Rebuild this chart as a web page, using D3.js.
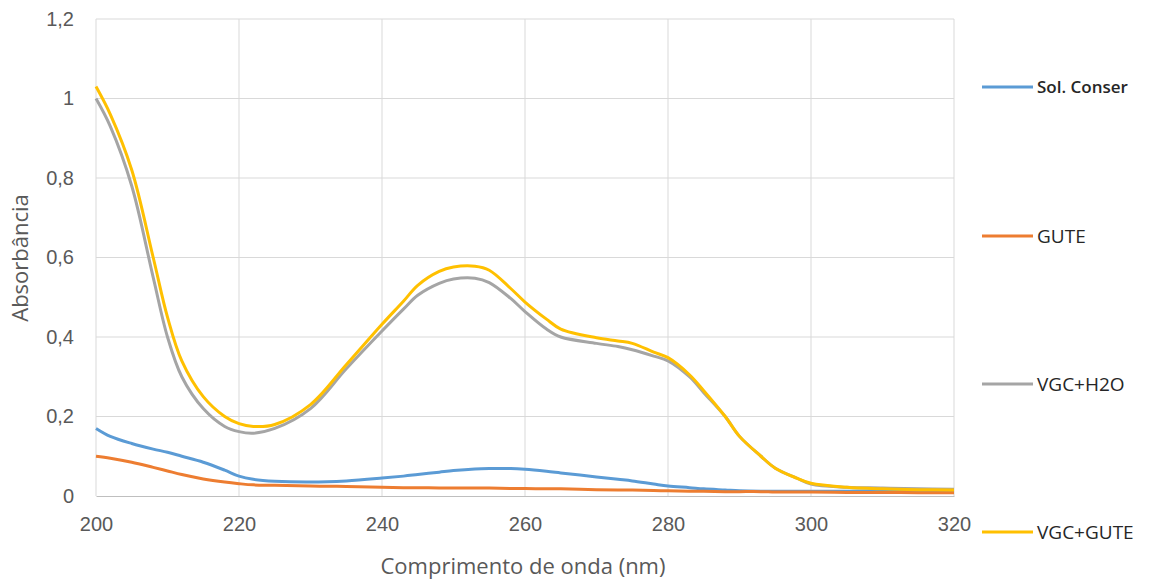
<!DOCTYPE html>
<html>
<head>
<meta charset="utf-8">
<script src="https://cdn.jsdelivr.net/npm/d3@7"></script>
<style>
	body { margin: 0; background: #fff; }
	svg { font-family: "Open Sans", "Liberation Sans", sans-serif; }
</style>
</head>
<body>
<svg id="chart" width="1149" height="581"></svg>
<script>
// Data
const wavelengths = [200, 202, 205, 208, 210, 212, 215, 218, 220, 222, 225, 230, 235, 240, 243, 245, 248, 250, 253, 255,
	258, 260, 263, 265, 270, 273, 275, 278, 280, 283, 285, 288, 290, 293, 295, 298, 300, 305, 310, 315, 320];
const solConser = [0.17, 0.15, 0.132, 0.118, 0.11, 0.1, 0.085, 0.065, 0.05, 0.042, 0.037, 0.035, 0.038, 0.045, 0.05, 0.054, 0.06, 0.064, 0.068, 0.069,
	0.069, 0.067, 0.062, 0.058, 0.048, 0.042, 0.038, 0.03, 0.025, 0.021, 0.018, 0.015, 0.013, 0.012, 0.012, 0.012, 0.012, 0.012, 0.013, 0.013, 0.014];
const gute = [0.1, 0.095, 0.085, 0.072, 0.063, 0.054, 0.043, 0.035, 0.031, 0.028, 0.027, 0.025, 0.024, 0.022, 0.021, 0.021, 0.02, 0.02, 0.02, 0.02,
	0.019, 0.019, 0.018, 0.018, 0.016, 0.015, 0.015, 0.014, 0.013, 0.012, 0.012, 0.011, 0.011, 0.011, 0.01, 0.01, 0.01, 0.009, 0.009, 0.008, 0.008];
const vgcH2O = [1.0, 0.93, 0.78, 0.55, 0.4, 0.3, 0.22, 0.175, 0.162, 0.158, 0.17, 0.22, 0.32, 0.415, 0.47, 0.505, 0.535, 0.546, 0.548, 0.537,
	0.497, 0.464, 0.42, 0.4, 0.384, 0.376, 0.368, 0.352, 0.34, 0.3, 0.26, 0.2, 0.15, 0.1, 0.07, 0.045, 0.03, 0.022, 0.02, 0.018, 0.017];
const vgcGute = [1.03, 0.96, 0.82, 0.6, 0.45, 0.34, 0.25, 0.2, 0.182, 0.175, 0.18, 0.23, 0.33, 0.432, 0.49, 0.53, 0.565, 0.576, 0.578, 0.568,
	0.522, 0.488, 0.445, 0.42, 0.398, 0.39, 0.384, 0.362, 0.348, 0.305, 0.265, 0.2, 0.15, 0.1, 0.07, 0.045, 0.032, 0.022, 0.018, 0.016, 0.015];

const seriesNames = ["Sol. Conser", "GUTE", "VGC+H2O", "VGC+GUTE"];
const seriesValues = [solConser, gute, vgcH2O, vgcGute];
const seriesColors = ["#5B9BD5", "#ED7D31", "#A5A5A5", "#FFC000"];
const xTicks = [200, 220, 240, 260, 280, 300, 320];
const yTicks = [0, 0.2, 0.4, 0.6, 0.8, 1, 1.2];

const svg = d3.select("#chart");

const x = d3.scaleLinear().domain([200, 320]).range([96, 954]);
const y = d3.scaleLinear().domain([0, 1.2]).range([496, 19]);

const fmt = d => d3.format("~g")(d).replace(".", ",");

// Grid
svg.append("g")
	.selectAll("line")
	.data(yTicks.filter(d => d > 0))
	.enter()
	.append("line")
		.attr("x1", x(200)).attr("x2", x(320))
		.attr("y1", d => y(d)).attr("y2", d => y(d))
		.attr("stroke", "#d9d9d9").attr("stroke-width", 1);

svg.append("g")
	.selectAll("line")
	.data(xTicks)
	.enter()
	.append("line")
		.attr("x1", d => x(d)).attr("x2", d => x(d))
		.attr("y1", y(0)).attr("y2", y(1.2))
		.attr("stroke", "#d9d9d9").attr("stroke-width", 1);

// Axes
const xAxis = svg.append("g")
	.attr("transform", `translate(0,${y(0)})`)
	.call(d3.axisBottom(x).tickValues(xTicks).tickSize(0).tickPadding(21).tickFormat(d3.format("d")));
xAxis.select(".domain").attr("stroke", "#bfbfbf");
xAxis.selectAll("text").attr("font-size", 20).attr("fill", "#595959");

const yAxis = svg.append("g")
	.attr("transform", `translate(${x(200)},0)`)
	.call(d3.axisLeft(y).tickValues(yTicks).tickSize(0).tickPadding(22).tickFormat(fmt));
yAxis.select(".domain").remove();
yAxis.selectAll("text").attr("font-size", 20).attr("fill", "#595959");

// Axis titles
svg.append("text")
	.attr("x", 523).attr("y", 574)
	.attr("text-anchor", "middle")
	.attr("font-size", 22).attr("fill", "#595959")
	.text("Comprimento de onda (nm)");

svg.append("text")
	.attr("transform", "translate(28,258) rotate(-90)")
	.attr("text-anchor", "middle")
	.attr("font-size", 22).attr("fill", "#595959")
	.text("Absorbância");

// Lines
const line = d3.line()
	.x((d, i) => x(wavelengths[i]))
	.y(d => y(d))
	.curve(d3.curveCatmullRom.alpha(0.5));

svg.append("g")
	.selectAll("path")
	.data(seriesValues)
	.enter()
	.append("path")
		.attr("d", d => line(d))
		.attr("fill", "none")
		.attr("stroke", (d, i) => seriesColors[i])
		.attr("stroke-width", 3)
		.attr("stroke-linejoin", "round");

// Legend
const legendY = [87, 236, 384, 532];
const legend = svg.append("g")
	.selectAll("g")
	.data(seriesNames)
	.enter()
	.append("g")
		.attr("transform", (d, i) => `translate(982,${legendY[i]})`);

legend.append("line")
	.attr("x1", 0).attr("x2", 51)
	.attr("stroke", (d, i) => seriesColors[i])
	.attr("stroke-width", 3);

legend.append("text")
	.attr("x", 55).attr("dy", "0.35em")
	.attr("font-size", (d, i) => i === 0 ? 17 : 19)
	.attr("font-weight", (d, i) => i === 0 ? 600 : 400)
	.attr("fill", "#262626")
	.text(d => d);
</script>
</body>
</html>
